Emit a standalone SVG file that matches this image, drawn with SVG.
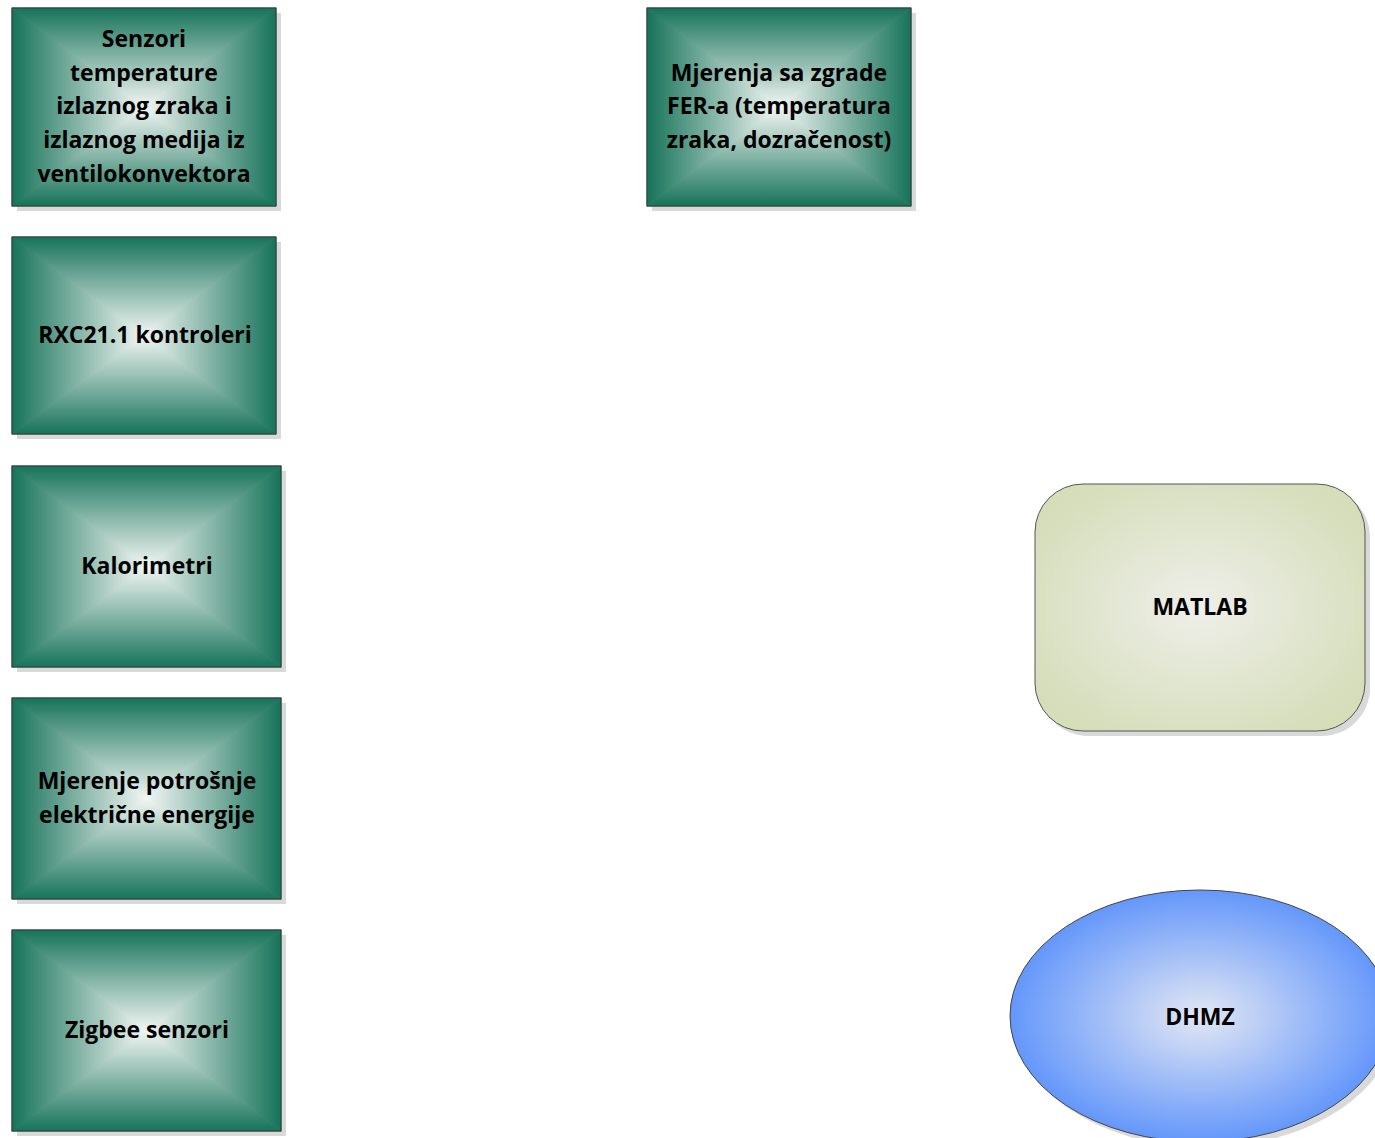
<svg xmlns="http://www.w3.org/2000/svg" width="1375" height="1138" viewBox="0 0 1375 1138">
<defs>
<linearGradient id="gT" x1="0" y1="0" x2="0" y2="1"><stop offset="0" stop-color="#17735a"/><stop offset="1" stop-color="#f2f6f3"/></linearGradient>
<linearGradient id="gB" x1="0" y1="1" x2="0" y2="0"><stop offset="0" stop-color="#17735a"/><stop offset="1" stop-color="#f2f6f3"/></linearGradient>
<linearGradient id="gL" x1="0" y1="0" x2="1" y2="0"><stop offset="0" stop-color="#17735a"/><stop offset="1" stop-color="#f2f6f3"/></linearGradient>
<linearGradient id="gR" x1="1" y1="0" x2="0" y2="0"><stop offset="0" stop-color="#17735a"/><stop offset="1" stop-color="#f2f6f3"/></linearGradient>
<radialGradient id="gM" cx="0.5" cy="0.5" r="0.6"><stop offset="0" stop-color="#eeefe9"/><stop offset="1" stop-color="#d5ddb9"/></radialGradient>
<radialGradient id="gD" cx="0.5" cy="0.5" r="0.5"><stop offset="0" stop-color="#e3e7f3"/><stop offset="1" stop-color="#6497fb"/></radialGradient>
<style>
.sh{fill:#d9d9d9}
.ol{fill:none;stroke:#3a3a3a;stroke-width:1}
.pT{fill:url(#gT);stroke:url(#gT);stroke-width:1}
.pB{fill:url(#gB);stroke:url(#gB);stroke-width:1}
.pL{fill:url(#gL);stroke:url(#gL);stroke-width:1}
.pR{fill:url(#gR);stroke:url(#gR);stroke-width:1}
.t{font-family:"Open Sans","Liberation Sans",sans-serif;font-weight:700;font-size:23px;fill:#000;text-anchor:middle}
</style>
</defs>
<rect width="1375" height="1138" fill="#fff"/>
<g id="connectors"/>
<g id="n1">
<rect class="sh" x="17" y="13" width="264" height="198"/>
<polygon class="pL" points="12,8 12,206 144,107"/>
<polygon class="pR" points="276,8 276,206 144,107"/>
<polygon class="pT" points="12,8 276,8 144,107"/>
<polygon class="pB" points="12,206 276,206 144,107"/>
<rect class="ol" x="12" y="8" width="264" height="198"/>
<text class="t" x="144" y="47">Senzori</text>
<text class="t" x="144" y="81">temperature</text>
<text class="t" x="144" y="114">izlaznog zraka i</text>
<text class="t" x="144" y="148">izlaznog medija iz</text>
<text class="t" x="144" y="182">ventilokonvektora</text>
</g>
<g id="n2">
<rect class="sh" x="17" y="242" width="264" height="197"/>
<polygon class="pL" points="12,237 12,434 144,335.5"/>
<polygon class="pR" points="276,237 276,434 144,335.5"/>
<polygon class="pT" points="12,237 276,237 144,335.5"/>
<polygon class="pB" points="12,434 276,434 144,335.5"/>
<rect class="ol" x="12" y="237" width="264" height="197"/>
<text class="t" x="145" y="343">RXC21.1 kontroleri</text>
</g>
<g id="n3">
<rect class="sh" x="17" y="471" width="269" height="201"/>
<polygon class="pL" points="12,466 12,667 146.5,566.5"/>
<polygon class="pR" points="281,466 281,667 146.5,566.5"/>
<polygon class="pT" points="12,466 281,466 146.5,566.5"/>
<polygon class="pB" points="12,667 281,667 146.5,566.5"/>
<rect class="ol" x="12" y="466" width="269" height="201"/>
<text class="t" x="147" y="574">Kalorimetri</text>
</g>
<g id="n4">
<rect class="sh" x="17" y="703" width="269" height="201"/>
<polygon class="pL" points="12,698 12,899 146.5,798.5"/>
<polygon class="pR" points="281,698 281,899 146.5,798.5"/>
<polygon class="pT" points="12,698 281,698 146.5,798.5"/>
<polygon class="pB" points="12,899 281,899 146.5,798.5"/>
<rect class="ol" x="12" y="698" width="269" height="201"/>
<text class="t" x="147" y="789">Mjerenje potrošnje</text>
<text class="t" x="147" y="823">električne energije</text>
</g>
<g id="n5">
<rect class="sh" x="17" y="935" width="269" height="201"/>
<polygon class="pL" points="12,930 12,1131 146.5,1030.5"/>
<polygon class="pR" points="281,930 281,1131 146.5,1030.5"/>
<polygon class="pT" points="12,930 281,930 146.5,1030.5"/>
<polygon class="pB" points="12,1131 281,1131 146.5,1030.5"/>
<rect class="ol" x="12" y="930" width="269" height="201"/>
<text class="t" x="147" y="1038">Zigbee senzori</text>
</g>
<g id="n6">
<rect class="sh" x="652" y="13" width="264" height="198"/>
<polygon class="pL" points="647,8 647,206 779,107"/>
<polygon class="pR" points="911,8 911,206 779,107"/>
<polygon class="pT" points="647,8 911,8 779,107"/>
<polygon class="pB" points="647,206 911,206 779,107"/>
<rect class="ol" x="647" y="8" width="264" height="198"/>
<text class="t" x="779" y="81">Mjerenja sa zgrade</text>
<text class="t" x="779" y="114">FER-a (temperatura</text>
<text class="t" x="779" y="148">zraka, dozračenost)</text>
</g>
<g id="matlab">
<rect class="sh" x="1040" y="489" width="330" height="247" rx="48"/>
<rect x="1035" y="484" width="330" height="247" rx="48" fill="url(#gM)" stroke="#555" stroke-width="1"/>
<text class="t" x="1200" y="615">MATLAB</text>
</g>
<g id="dhmz">
<ellipse cx="1205" cy="1021" rx="190" ry="126" fill="#d9d9d9"/>
<ellipse cx="1200" cy="1016" rx="190" ry="126" fill="url(#gD)" stroke="#444" stroke-width="1"/>
<text class="t" x="1200" y="1025">DHMZ</text>
</g>
</svg>
